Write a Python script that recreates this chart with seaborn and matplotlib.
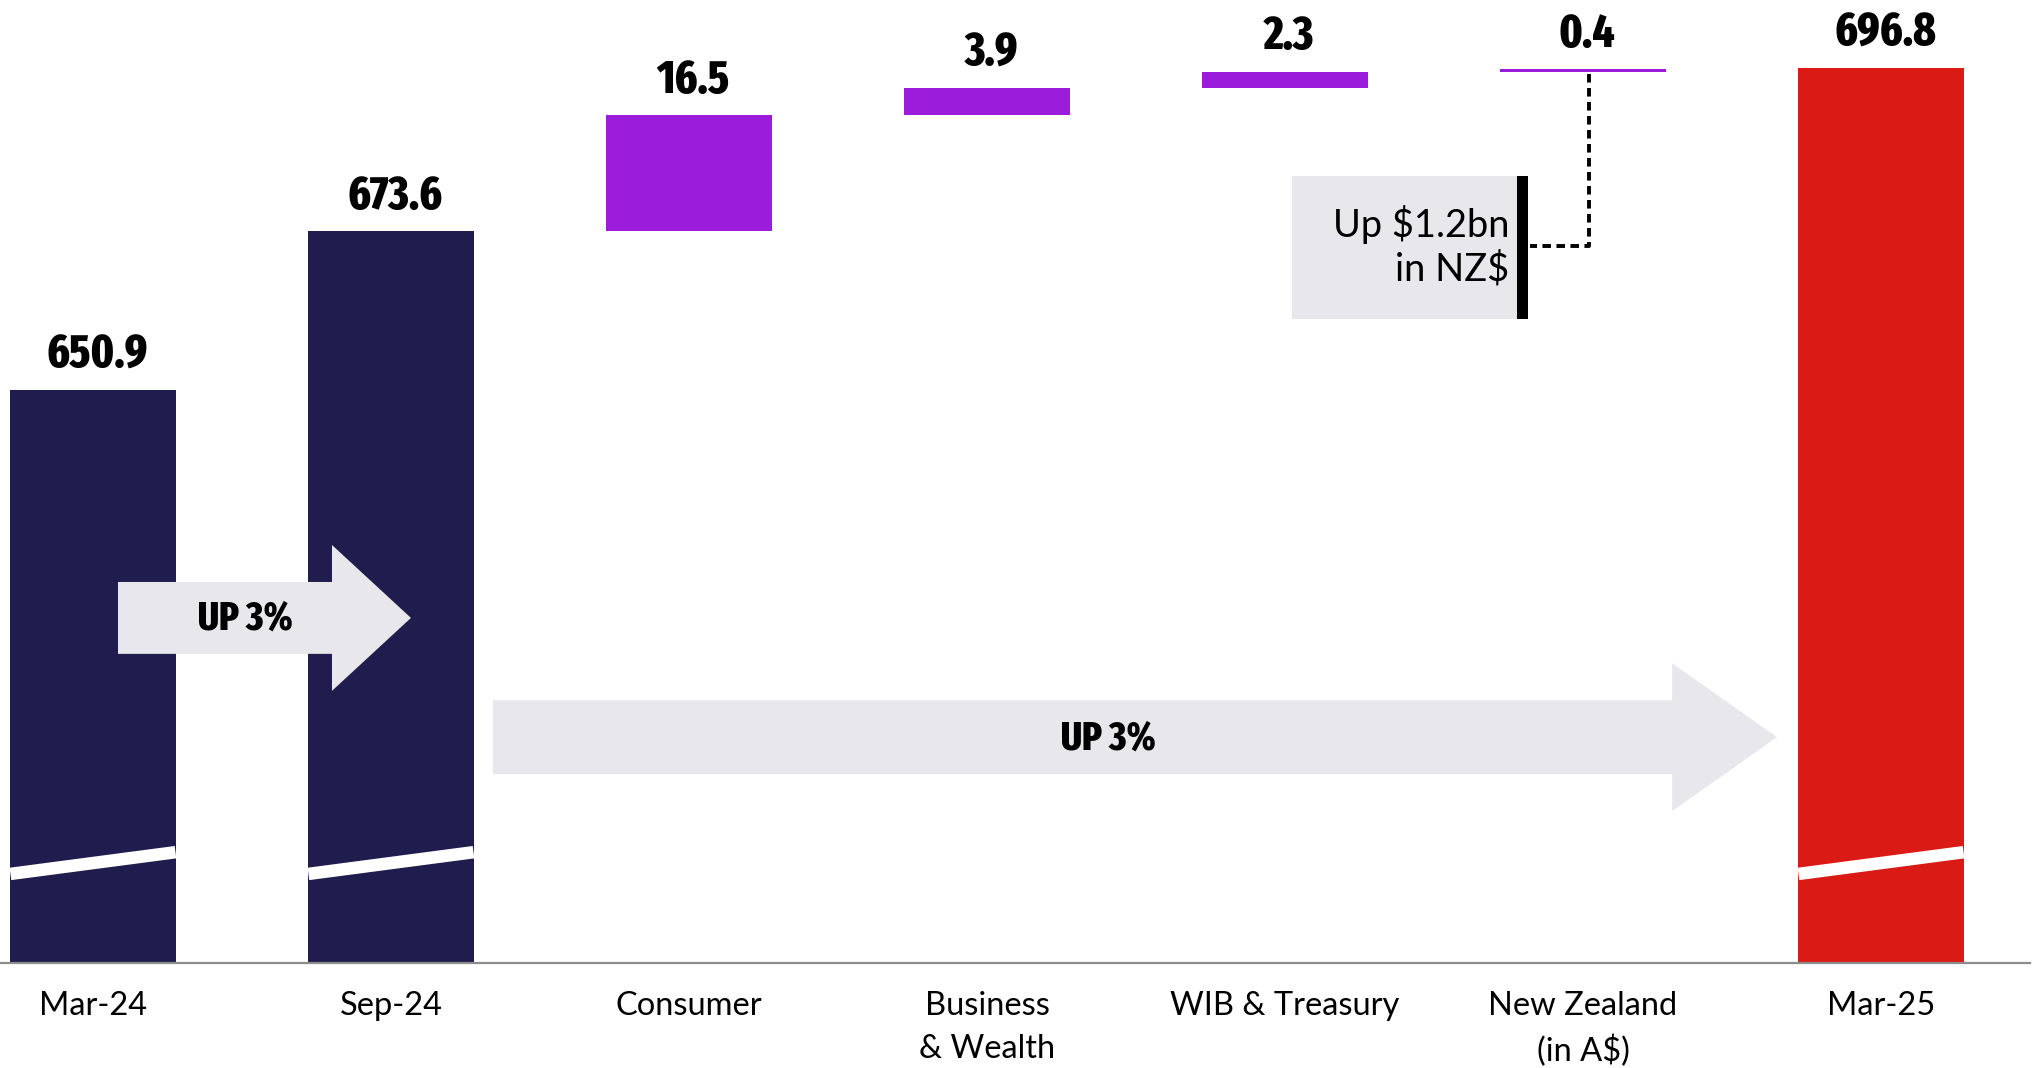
import matplotlib
matplotlib.use('Agg')
import pandas as pd
import matplotlib.pyplot as plt
import seaborn as sns
from matplotlib.font_manager import fontManager, FontProperties
from matplotlib.patches import FancyArrow, Rectangle

# values in A$bn
labels = ['Mar-24', 'Sep-24', 'Consumer', 'Business\n& Wealth', 'WIB & Treasury',
          'New Zealand\n(in A$)', 'Mar-25']
opening = [650.9, 673.6]
changes = [16.5, 3.9, 2.3, 0.4]
closing = 696.8
value_text = ['650.9', '673.6', '16.5', '3.9', '2.3', '0.4', '696.8']
bar_colors = ['#201C4E', '#201C4E', '#9B1CDB', '#9B1CDB', '#9B1CDB', '#9B1CDB', '#DA1A14']

# waterfall tops / floating bases
tops, bases = list(opening), [0, 0]
running = opening[-1]
for c in changes:
    bases.append(running)
    running += c
    tops.append(running)
tops.append(closing)
bases.append(0)
df = pd.DataFrame({'label': labels, 'top': tops, 'base': bases})

sns.set_style('white')
plt.rcParams['font.family'] = ['Lato', 'DejaVu Sans']
plt.rcParams['text.color'] = 'black'
plt.rcParams['xtick.color'] = 'black'


def pick_condensed_bold():
    # look for a narrow heavy sans face among the installed fonts
    prefs = ['ExtraCondensedExtraBold', 'ExtraCondensedBlack', 'ExtraCondensedBold',
             'CondensedExtraBold', 'CondensedBlack', 'CondensedBold', 'Condensed-Bold',
             'Narrow-Bold', 'NarrowBold', 'SemiCondensedBold']
    files = [f.fname for f in fontManager.ttflist]
    for p in prefs:
        for fn in files:
            base = fn.split('/')[-1].replace('_', '').replace('-', '')
            if p.replace('-', '') in base and not any(k in base for k in ['Italic', 'Oblique', 'Mono', 'Serif']):
                return FontProperties(fname=fn)
    return FontProperties(family='DejaVu Sans', weight='bold')


num_fp = pick_condensed_bold()

grey = '#E8E7EC'

fig = plt.figure(figsize=(20.4, 10.68), dpi=100)
ax = fig.add_axes([0, 105 / 1068, 2030 / 2040, 963 / 1068])

# fit the number font so "650.9" is about 96 px wide and 35 px cap height
renderer = fig.canvas.get_renderer()
probe = fig.text(0, 0, '650.9', fontproperties=num_fp, fontsize=40)
w = probe.get_window_extent(renderer).width
probe_h = fig.text(0, 0, 'H', fontproperties=num_fp, fontsize=40)
h = probe_h.get_window_extent(renderer).height * 0.72
probe.remove()
probe_h.remove()
big = min(40 * 96 / w, 40 * 36 / h) * 1.06
small = big * 0.85

sns.barplot(data=df, x='label', y='top', hue='label', palette=dict(zip(labels, bar_colors)),
            width=0.554, saturation=1, legend=False, errorbar=None, linewidth=0, ax=ax)
# white mask under the floating bars
sns.barplot(data=df, x='label', y='base', color='white', width=0.56, saturation=1,
            errorbar=None, linewidth=0, ax=ax)

ax.set_ylim(569.2, 706.5)
ax.set_xlim(-0.312, 6.5)

# axis-break slashes on the total bars
for i in [0, 1, 6]:
    ax.plot([i - 0.277, i + 0.277], [581.9, 585.0], color='white', lw=9,
            solid_capstyle='butt', zorder=3)

for i, (t, txt) in enumerate(zip(tops, value_text)):
    ax.annotate(txt, (i, t), xytext=(3, 16), textcoords='offset points', ha='center',
                va='baseline', fontproperties=num_fp, fontsize=big, color='black')

# growth arrows
ax.add_patch(FancyArrow(0.084, 618.4, 0.983, 0, width=10.25, head_width=20.8, head_length=0.265,
                        length_includes_head=True, color=grey, lw=0, zorder=4))
ax.text(0.51, 618.2, 'UP 3%', ha='center', va='center', fontproperties=num_fp,
        fontsize=small, zorder=5)
ax.add_patch(FancyArrow(1.342, 601.4, 4.309, 0, width=10.55, head_width=21.1, head_length=0.352,
                        length_includes_head=True, color=grey, lw=0, zorder=4))
ax.text(3.406, 601.2, 'UP 3%', ha='center', va='center', fontproperties=num_fp,
        fontsize=small, zorder=5)

# NZ$ callout
ax.add_patch(Rectangle((4.023, 661.0), 0.756, 20.4, color=grey, lw=0, zorder=4))
ax.add_patch(Rectangle((4.779, 661.0), 0.036, 20.4, color='black', lw=0, zorder=5))
ax.text(4.752, 671.4, 'Up \\$1.2bn\nin NZ\\$', ha='right', va='center', fontsize=27.4,
        linespacing=1.25, zorder=5)
ax.plot([5.02, 5.02, 4.822], [695.9, 671.4, 671.4], color='black', lw=2.8,
        ls=(0, (2.2, 1.4)), zorder=5)

for s in ['top', 'right', 'left']:
    ax.spines[s].set_visible(False)
ax.spines['bottom'].set_color('#8C8C8C')
ax.spines['bottom'].set_linewidth(1.6)
ax.set_yticks([])
ax.set_xlabel('')
ax.set_ylabel('')
ax.tick_params(axis='x', length=0, pad=20, labelsize=23.5, labelcolor='black')
for lbl in ax.get_xticklabels():
    lbl.set_linespacing(1.55)

fig.savefig('out.png', dpi=100)
